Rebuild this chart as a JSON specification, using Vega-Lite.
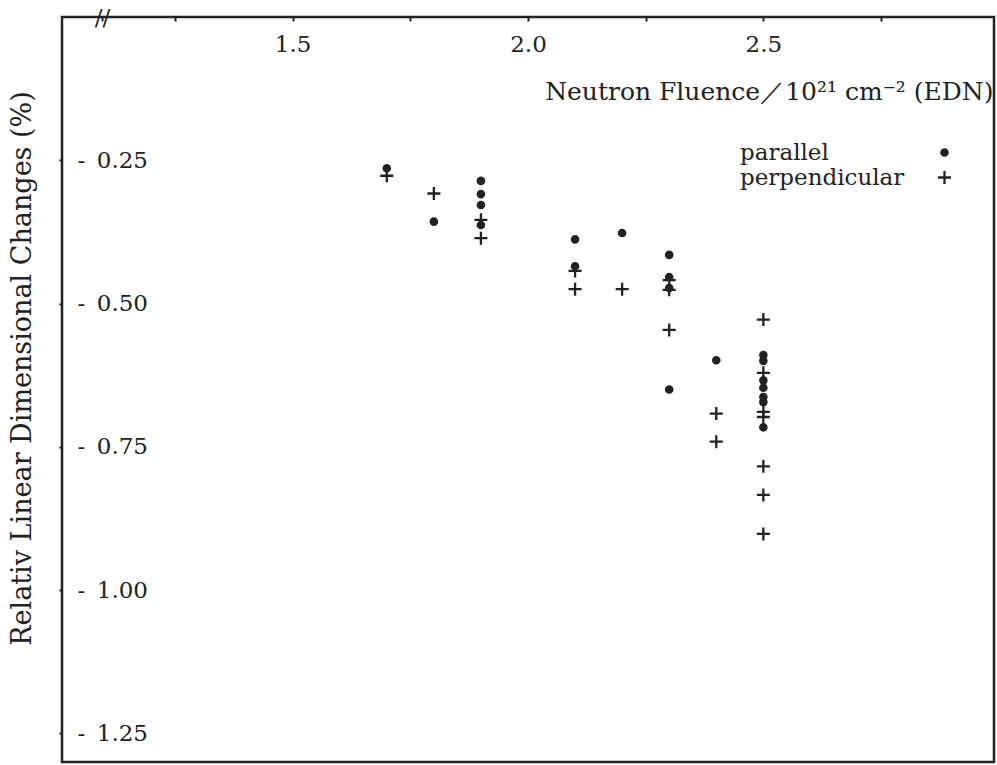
{
  "$schema": "https://vega.github.io/schema/vega-lite/v6.json",
  "width": 932,
  "height": 745,
  "autosize": {"type": "none"},
  "padding": {"left": 62, "top": 17, "right": 3, "bottom": 3},
  "background": "white",
  "config": {
    "view": {"stroke": "#222222", "strokeWidth": 2.5},
    "font": "DejaVu Serif",
    "legend": {
      "orient": "none",
      "legendX": 871,
      "legendY": 124,
      "title": null,
      "padding": 0,
      "rowPadding": 1,
      "labelFont": "DejaVu Serif",
      "labelFontSize": 23,
      "labelColor": "#222222",
      "labelAlign": "left",
      "labelOffset": -216,
      "labelLimit": 400,
      "symbolStrokeWidth": 2.3,
      "symbolStrokeColor": "#222222"
    }
  },
  "data": {
    "values": [
      {"fluence": 1.7, "change": -0.264, "orientation": "parallel"},
      {"fluence": 1.8, "change": -0.357, "orientation": "parallel"},
      {"fluence": 1.9, "change": -0.286, "orientation": "parallel"},
      {"fluence": 1.9, "change": -0.309, "orientation": "parallel"},
      {"fluence": 1.9, "change": -0.328, "orientation": "parallel"},
      {"fluence": 1.9, "change": -0.363, "orientation": "parallel"},
      {"fluence": 2.1, "change": -0.388, "orientation": "parallel"},
      {"fluence": 2.1, "change": -0.435, "orientation": "parallel"},
      {"fluence": 2.2, "change": -0.377, "orientation": "parallel"},
      {"fluence": 2.3, "change": -0.415, "orientation": "parallel"},
      {"fluence": 2.3, "change": -0.454, "orientation": "parallel"},
      {"fluence": 2.3, "change": -0.473, "orientation": "parallel"},
      {"fluence": 2.3, "change": -0.650, "orientation": "parallel"},
      {"fluence": 2.4, "change": -0.599, "orientation": "parallel"},
      {"fluence": 2.5, "change": -0.590, "orientation": "parallel"},
      {"fluence": 2.5, "change": -0.600, "orientation": "parallel"},
      {"fluence": 2.5, "change": -0.634, "orientation": "parallel"},
      {"fluence": 2.5, "change": -0.647, "orientation": "parallel"},
      {"fluence": 2.5, "change": -0.663, "orientation": "parallel"},
      {"fluence": 2.5, "change": -0.672, "orientation": "parallel"},
      {"fluence": 2.5, "change": -0.716, "orientation": "parallel"},
      {"fluence": 1.7, "change": -0.277, "orientation": "perpendicular"},
      {"fluence": 1.8, "change": -0.308, "orientation": "perpendicular"},
      {"fluence": 1.9, "change": -0.354, "orientation": "perpendicular"},
      {"fluence": 1.9, "change": -0.386, "orientation": "perpendicular"},
      {"fluence": 2.1, "change": -0.443, "orientation": "perpendicular"},
      {"fluence": 2.1, "change": -0.475, "orientation": "perpendicular"},
      {"fluence": 2.2, "change": -0.475, "orientation": "perpendicular"},
      {"fluence": 2.3, "change": -0.459, "orientation": "perpendicular"},
      {"fluence": 2.3, "change": -0.476, "orientation": "perpendicular"},
      {"fluence": 2.3, "change": -0.546, "orientation": "perpendicular"},
      {"fluence": 2.4, "change": -0.692, "orientation": "perpendicular"},
      {"fluence": 2.4, "change": -0.741, "orientation": "perpendicular"},
      {"fluence": 2.5, "change": -0.528, "orientation": "perpendicular"},
      {"fluence": 2.5, "change": -0.621, "orientation": "perpendicular"},
      {"fluence": 2.5, "change": -0.689, "orientation": "perpendicular"},
      {"fluence": 2.5, "change": -0.698, "orientation": "perpendicular"},
      {"fluence": 2.5, "change": -0.784, "orientation": "perpendicular"},
      {"fluence": 2.5, "change": -0.834, "orientation": "perpendicular"},
      {"fluence": 2.5, "change": -0.902, "orientation": "perpendicular"}
    ]
  },
  "mark": {"type": "point", "filled": false, "strokeWidth": 2.3, "opacity": 1},
  "encoding": {
    "x": {
      "field": "fluence",
      "type": "quantitative",
      "scale": {"domain": [1.01, 2.99], "nice": false, "zero": false},
      "axis": {
        "orient": "top",
        "values": [1.095, 1.25, 1.5, 1.75, 2, 2.25, 2.5, 2.75],
        "grid": false,
        "domain": false,
        "tickSize": -4,
        "tickWidth": 2,
        "tickColor": "#222222",
        "labelPadding": {"condition": {"test": "datum.value < 1.2", "value": 4}, "value": -23},
        "labelBaseline": "middle",
        "labelFont": "DejaVu Serif",
        "labelFontSize": 23,
        "labelColor": "#222222",
        "labelFlush": false,
        "labelOverlap": false,
        "labelExpr": "datum.value < 1.2 ? '//' : (datum.value % 0.5 == 0 ? format(datum.value, '.1f') : '')",
        "title": "Neutron Fluence／10²¹ cm⁻² (EDN)",
        "titleFont": "DejaVu Serif",
        "titleFontSize": 25,
        "titleFontWeight": "normal",
        "titleColor": "#222222",
        "titleX": 931,
        "titleY": 74,
        "titleAlign": "right",
        "titleBaseline": "middle"
      }
    },
    "y": {
      "field": "change",
      "type": "quantitative",
      "scale": {"domain": [-1.3, 0], "nice": false, "zero": false},
      "axis": {
        "orient": "left",
        "values": [-0.25, -0.5, -0.75, -1, -1.25],
        "grid": false,
        "domain": false,
        "tickSize": 3,
        "tickWidth": 2,
        "tickColor": "#222222",
        "labelAlign": "left",
        "labelPadding": -18,
        "labelBaseline": "middle",
        "labelFont": "DejaVu Serif",
        "labelFontSize": 23,
        "labelColor": "#222222",
        "labelOverlap": false,
        "labelExpr": "'-\u2002' + format(-datum.value, '.2f')",
        "title": "Relativ Linear Dimensional Changes (%)",
        "titleFont": "DejaVu Serif",
        "titleFontSize": 27,
        "titleFontWeight": "normal",
        "titleColor": "#222222",
        "titleX": -40,
        "titleY": 351,
        "titleAngle": 270,
        "titleAlign": "center",
        "titleBaseline": "middle"
      }
    },
    "shape": {
      "field": "orientation",
      "type": "nominal",
      "scale": {"domain": ["parallel", "perpendicular"], "range": ["circle", "M-1,0H1M0,-1V1"]}
    },
    "fill": {
      "field": "orientation",
      "type": "nominal",
      "scale": {"domain": ["parallel", "perpendicular"], "range": ["#222222", "rgba(0,0,0,0)"]}
    },
    "stroke": {
      "field": "orientation",
      "type": "nominal",
      "scale": {"domain": ["parallel", "perpendicular"], "range": ["#222222", "#222222"]}
    },
    "size": {
      "field": "orientation",
      "type": "nominal",
      "scale": {"domain": ["parallel", "perpendicular"], "range": [40, 170]}
    }
  }
}
